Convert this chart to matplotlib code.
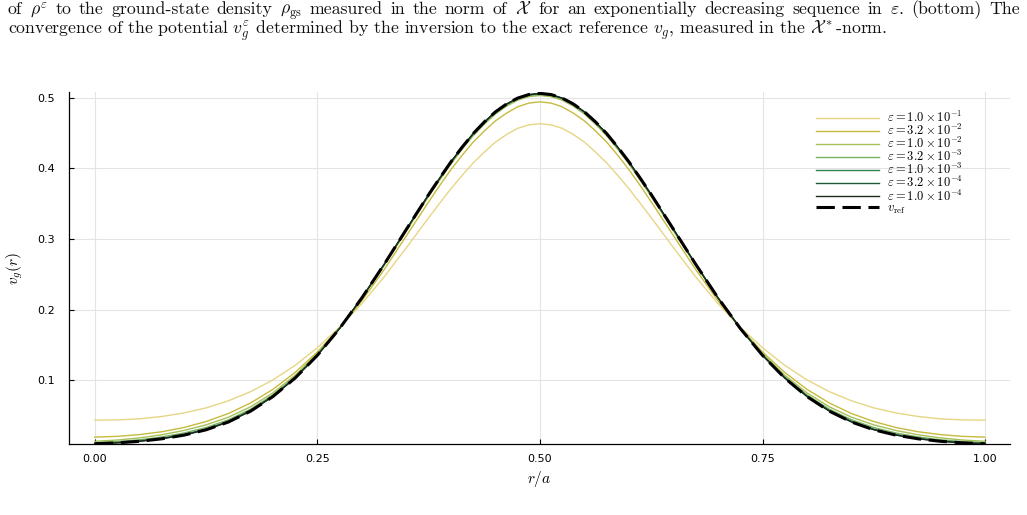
import numpy as np
import matplotlib
matplotlib.use("Agg")
import matplotlib.pyplot as plt

plt.rcParams['mathtext.fontset'] = 'cm'

W, H = 1027, 515

# caption lines (screenshot of the paper text above the figure)
CAPTION_1 = (r"of $\rho^\varepsilon$ to the ground-state density $\rho_\mathrm{gs}$ measured in the norm of "
             r"$\mathcal{X}$ for an exponentially decreasing sequence in $\varepsilon$. (bottom) The")
CAPTION_2 = (r"convergence of the potential $v_g^\varepsilon$ determined by the inversion to the exact "
             r"reference $v_g$, measured in the $\mathcal{X}^*$-norm.")

# r/a of the left half (curves are symmetric around r/a = 0.5)
r_half = [0.000, 0.025, 0.050, 0.075, 0.100, 0.125, 0.150, 0.175, 0.200, 0.225, 0.250,
          0.275, 0.300, 0.325, 0.350, 0.375, 0.3875, 0.400, 0.4125, 0.425, 0.4375,
          0.450, 0.4625, 0.475, 0.4875, 0.500]

# v_g^eps on the left half
v_eps_1e1 = [0.0435, 0.0438, 0.0453, 0.0486, 0.0536, 0.0608, 0.0708, 0.0838, 0.1003, 0.1210, 0.1460,
             0.1750, 0.2085, 0.2462, 0.2876, 0.3300, 0.3507, 0.3710, 0.3897, 0.4075, 0.4228,
             0.4370, 0.4478, 0.4565, 0.4614, 0.4630]
v_eps_32e2 = [0.0194, 0.0205, 0.0230, 0.0270, 0.0330, 0.0415, 0.0528, 0.0678, 0.0870, 0.1110, 0.1400,
              0.1738, 0.2125, 0.2565, 0.3045, 0.3525, 0.3757, 0.3980, 0.4182, 0.4370, 0.4527,
              0.4670, 0.4780, 0.4870, 0.4922, 0.4940]
v_eps_1e2 = [0.0135, 0.0153, 0.0183, 0.0227, 0.0288, 0.0368, 0.0476, 0.0624, 0.0820, 0.1070, 0.1378,
             0.1743, 0.2161, 0.2625, 0.3114, 0.3601, 0.3833, 0.4060, 0.4267, 0.4459, 0.4622,
             0.4767, 0.4878, 0.4963, 0.5013, 0.5030]
v_eps_32e3 = [0.0116, 0.0131, 0.0156, 0.0196, 0.0252, 0.0330, 0.0439, 0.0590, 0.0791, 0.1048, 0.1364,
              0.1737, 0.2164, 0.2634, 0.3127, 0.3616, 0.3848, 0.4076, 0.4282, 0.4475, 0.4638,
              0.4783, 0.4893, 0.4979, 0.5028, 0.5045]
v_eps_1e3 = [0.0105, 0.0119, 0.0142, 0.0178, 0.0231, 0.0308, 0.0418, 0.0571, 0.0776, 0.1036, 0.1356,
             0.1735, 0.2165, 0.2638, 0.3133, 0.3624, 0.3857, 0.4086, 0.4292, 0.4486, 0.4649,
             0.4794, 0.4904, 0.4989, 0.5038, 0.5055]
v_eps_32e4 = [0.0102, 0.0115, 0.0137, 0.0172, 0.0224, 0.0301, 0.0411, 0.0565, 0.0771, 0.1032, 0.1353,
              0.1734, 0.2166, 0.2639, 0.3135, 0.3627, 0.3860, 0.4089, 0.4295, 0.4489, 0.4652,
              0.4797, 0.4907, 0.4992, 0.5041, 0.5058]
v_eps_1e4 = [0.0100, 0.0113, 0.0135, 0.0171, 0.0223, 0.0299, 0.0409, 0.0563, 0.0769, 0.1031, 0.1352,
             0.1733, 0.2166, 0.2640, 0.3136, 0.3628, 0.3862, 0.4090, 0.4297, 0.4490, 0.4654,
             0.4798, 0.4909, 0.4993, 0.5042, 0.5059]
v_ref = [0.0100, 0.0113, 0.0135, 0.0170, 0.0222, 0.0298, 0.0408, 0.0562, 0.0768, 0.1030, 0.1352,
         0.1733, 0.2166, 0.2640, 0.3136, 0.3628, 0.3862, 0.4090, 0.4297, 0.4490, 0.4655,
         0.4798, 0.4910, 0.4993, 0.5043, 0.5060]

eps_labels = [r"$\varepsilon = 1.0 \times 10^{-1}$", r"$\varepsilon = 3.2 \times 10^{-2}$",
              r"$\varepsilon = 1.0 \times 10^{-2}$", r"$\varepsilon = 3.2 \times 10^{-3}$",
              r"$\varepsilon = 1.0 \times 10^{-3}$", r"$\varepsilon = 3.2 \times 10^{-4}$",
              r"$\varepsilon = 1.0 \times 10^{-4}$"]
eps_series = [v_eps_1e1, v_eps_32e2, v_eps_1e2, v_eps_32e3, v_eps_1e3, v_eps_32e4, v_eps_1e4]
eps_colors = ["#e6d684", "#c6bb3e", "#a8c057", "#78b062", "#2f8253", "#1d5536", "#1b2a1c"]

xticks = [0.0, 0.25, 0.5, 0.75, 1.0]
yticks = [0.1, 0.2, 0.3, 0.4, 0.5]


def full(half):
    # mirror the left half onto [0.5, 1]
    return list(half) + list(half[-2::-1])


r = list(r_half) + [1.0 - x for x in r_half[-2::-1]]

fig = plt.figure(figsize=(W / 100, H / 100), dpi=100)
ax = fig.add_axes([69 / W, 71 / H, 941 / W, 351.5 / H])

for vals, col, lab in zip(eps_series, eps_colors, eps_labels):
    ax.plot(r, full(vals), color=col, lw=1.0, label=lab)
ax.plot(r, full(v_ref), color="black", lw=2.2, ls=(0, (6, 2.5)), label=r"$v_\mathrm{ref}$")

ax.set_xlim(-0.029, 1.028)
ax.set_ylim(0.0097, 0.5072)
ax.set_xticks(xticks)
ax.set_xticklabels(["%.2f" % t for t in xticks])
ax.set_yticks(yticks)
ax.set_yticklabels(["%.1f" % t for t in yticks])
ax.tick_params(direction="in", length=3.5, width=0.8, labelsize=8)
ax.tick_params(axis="x", pad=7)
ax.tick_params(axis="y", pad=10)
ax.grid(True, color="#e4e4e4", lw=0.8)
ax.set_axisbelow(True)
for s in ["top", "right"]:
    ax.spines[s].set_visible(False)
for s in ["left", "bottom"]:
    ax.spines[s].set_linewidth(0.9)

ax.set_xlabel(r"$r/a$", fontsize=11, labelpad=4)
ax.set_ylabel(r"$v_g(r)$", fontsize=11, labelpad=9)

ax.legend(loc="upper left", bbox_to_anchor=(816 / W, 1 - 110 / H), bbox_transform=fig.transFigure,
          frameon=False, fontsize=9, handlelength=5.0, handletextpad=0.65, labelspacing=-0.16,
          borderpad=0, borderaxespad=0)

# caption text, first line justified to full width
renderer = fig.canvas.get_renderer()
cap_kw = dict(family="cmr10", va="baseline", ha="left", color="#111111")
probe = fig.text(0, 0, CAPTION_2, fontsize=12, **cap_kw)
size = 12 * 880 / probe.get_window_extent(renderer).width
probe.remove()

fig.text(8 / W, 1 - 33.5 / H, CAPTION_2, fontsize=size, **cap_kw)
words = CAPTION_1.split(" ")
items = [fig.text(0, 1 - 14 / H, w, fontsize=size, **cap_kw) for w in words]
widths = [t.get_window_extent(renderer).width for t in items]
gap = (1020 - 8 - sum(widths)) / (len(words) - 1)
x = 8
for t, w in zip(items, widths):
    t.set_x(x / W)
    x += w + gap

fig.savefig("out.png", dpi=100)
